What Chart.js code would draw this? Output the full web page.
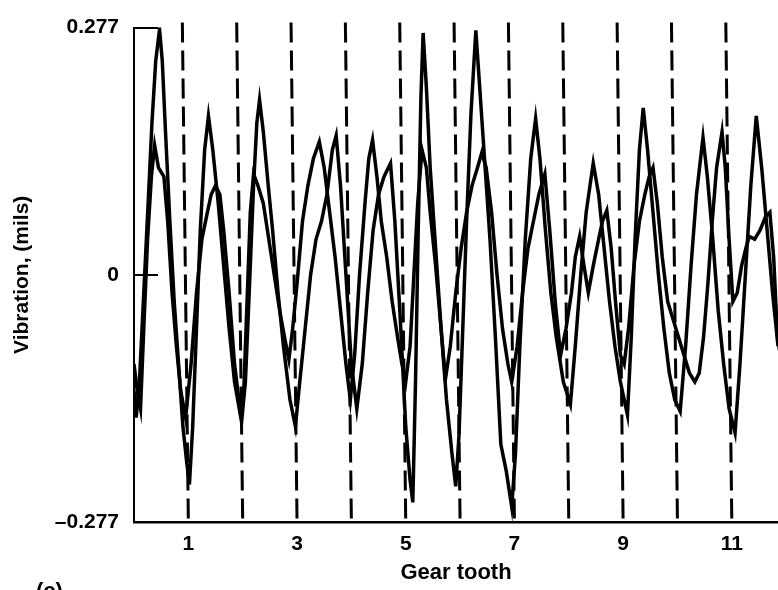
<!DOCTYPE html>
<html>
<head>
<meta charset="utf-8">
<script src="https://cdn.jsdelivr.net/npm/chart.js@4"></script>
<style>
  html, body { margin:0; padding:0; background:#fff; }
  #wrap { width:778px; height:590px; }
</style>
</head>
<body>
<div id="wrap"><canvas id="gearChart" width="778" height="590"></canvas></div>
<script>
// gear tooth positions / vibration (mils)
const aTooth = [0.00,0.04,0.10,0.18,0.26,0.33,0.40,0.47,0.52,0.58,0.66,0.74,0.82,0.90,0.97,1.02,1.08,1.15,1.22,1.30,1.37,1.45,1.55,1.65,1.75,1.85,1.98,2.05,2.12,2.20,2.26,2.31,2.38,2.47,2.55,2.65,2.75,2.87,2.97,3.05,3.15,3.25,3.35,3.45,3.55,3.65,3.72,3.80,3.90,4.00,4.10,4.20,4.30,4.40,4.50,4.60,4.72,4.80,4.90,5.00,5.08,5.13,5.18,5.23,5.28,5.32,5.38,5.45,5.55,5.65,5.75,5.85,5.92,5.98,6.05,6.12,6.20,6.29,6.35,6.45,6.55,6.65,6.75,6.85,6.95,7.02,7.10,7.20,7.30,7.39,7.47,7.57,7.67,7.77,7.90,8.03,8.12,8.22,8.32,8.45,8.55,8.65,8.75,8.85,8.95,9.08,9.15,9.22,9.30,9.37,9.45,9.55,9.65,9.75,9.85,9.95,10.05,10.15,10.25,10.35,10.47,10.55,10.65,10.75,10.85,10.95,11.06,11.15,11.25,11.35,11.45,11.55,11.65,11.75,11.85,11.92];
const aVib = [-0.13,-0.16,-0.12,-0.02,0.08,0.17,0.24,0.275,0.24,0.16,0.06,-0.03,-0.10,-0.17,-0.21,-0.235,-0.17,-0.06,0.05,0.14,0.178,0.14,0.08,0.01,-0.06,-0.12,-0.165,-0.12,-0.02,0.10,0.17,0.196,0.16,0.10,0.05,-0.02,-0.08,-0.14,-0.17,-0.12,-0.06,0.00,0.04,0.06,0.09,0.14,0.156,0.10,0.00,-0.10,-0.15,-0.10,-0.02,0.05,0.09,0.11,0.125,0.06,-0.05,-0.17,-0.23,-0.255,-0.12,0.05,0.20,0.271,0.21,0.12,0.03,-0.06,-0.14,-0.20,-0.237,-0.18,-0.06,0.06,0.18,0.274,0.22,0.13,0.04,-0.07,-0.19,-0.22,-0.26,-0.20,-0.08,0.04,0.13,0.175,0.13,0.05,-0.02,-0.07,-0.12,-0.145,-0.08,0.00,0.07,0.125,0.09,0.03,-0.03,-0.08,-0.12,-0.157,-0.07,0.04,0.14,0.187,0.14,0.07,0.00,-0.06,-0.11,-0.14,-0.153,-0.08,0.01,0.09,0.154,0.11,0.04,-0.04,-0.10,-0.15,-0.177,-0.10,0.00,0.10,0.178,0.12,0.05,-0.02,-0.08,-0.10];

const bTooth = [0.00,0.06,0.12,0.18,0.25,0.32,0.38,0.45,0.55,0.62,0.70,0.78,0.86,0.95,1.05,1.15,1.25,1.35,1.42,1.50,1.58,1.65,1.75,1.85,1.95,2.02,2.08,2.14,2.20,2.28,2.38,2.48,2.58,2.68,2.77,2.85,2.92,3.00,3.10,3.20,3.30,3.41,3.50,3.60,3.70,3.80,3.90,3.98,4.06,4.15,4.25,4.32,4.39,4.47,4.55,4.65,4.75,4.85,4.93,5.00,5.08,5.15,5.22,5.30,5.38,5.45,5.55,5.65,5.73,5.82,5.92,6.02,6.12,6.22,6.32,6.40,6.48,6.58,6.68,6.78,6.88,6.95,7.05,7.15,7.25,7.35,7.45,7.56,7.65,7.75,7.85,7.95,8.05,8.12,8.20,8.28,8.36,8.45,8.55,8.62,8.70,8.78,8.86,8.95,9.02,9.10,9.20,9.30,9.40,9.48,9.55,9.63,9.72,9.82,9.92,10.02,10.12,10.22,10.32,10.40,10.48,10.56,10.64,10.72,10.82,10.88,10.95,11.02,11.10,11.18,11.26,11.32,11.42,11.52,11.62,11.70,11.77,11.84,11.92];
const bVib = [-0.10,-0.13,-0.15,-0.06,0.04,0.11,0.145,0.12,0.11,0.06,-0.02,-0.08,-0.13,-0.16,-0.10,-0.02,0.04,0.07,0.09,0.10,0.09,0.05,-0.02,-0.10,-0.15,-0.13,-0.03,0.07,0.113,0.10,0.08,0.04,0.00,-0.04,-0.07,-0.095,-0.06,-0.01,0.06,0.10,0.13,0.149,0.12,0.07,0.02,-0.04,-0.10,-0.14,-0.09,0.00,0.08,0.13,0.151,0.11,0.06,0.02,-0.03,-0.07,-0.10,-0.12,-0.08,0.00,0.08,0.14,0.12,0.07,0.01,-0.06,-0.117,-0.08,-0.02,0.03,0.07,0.10,0.12,0.137,0.12,0.07,0.00,-0.06,-0.10,-0.12,-0.08,-0.02,0.03,0.06,0.09,0.113,0.05,-0.03,-0.09,-0.06,-0.02,0.02,0.043,0.01,-0.02,0.01,0.04,0.06,0.072,0.03,-0.03,-0.09,-0.10,-0.06,0.01,0.06,0.09,0.11,0.12,0.08,0.02,-0.03,-0.05,-0.07,-0.09,-0.11,-0.12,-0.11,-0.07,-0.01,0.06,0.12,0.16,0.12,0.04,-0.03,-0.02,0.01,0.03,0.043,0.04,0.05,0.065,0.07,0.02,-0.07,-0.10];

const toothLines = [1,2,3,4,5,6,7,8,9,10,11,12];
const xTicks = [1,3,5,7,9,11];
const yTicks = [-0.277, 0, 0.277];
const yTickLabels = ['\u20130.277', '0', '0.277'];

const FONT = '"Liberation Sans", Arial, Helvetica, sans-serif';
const dashLean = 6; // the scanned dashed lines lean a little to the left at the top

function pts(xs, ys){ return xs.map((x,i)=>({x:x, y:ys[i]})); }

// dashed tooth boundaries, inward y ticks, panel label
const extras = {
  id:'extras',
  beforeDatasetsDraw(chart){
    const {ctx, chartArea, scales:{x}} = chart;
    ctx.save();
    ctx.strokeStyle = '#000';
    ctx.lineWidth = 3;
    ctx.setLineDash([20, 8]);
    toothLines.forEach(t=>{
      if(t > x.max) return;
      const px = x.getPixelForValue(t);
      ctx.beginPath();
      ctx.moveTo(px - dashLean, chartArea.top - 5);
      ctx.lineTo(px, chartArea.bottom);
      ctx.stroke();
    });
    ctx.restore();
  },
  afterDraw(chart){
    const {ctx, chartArea, scales:{y}} = chart;
    ctx.save();
    ctx.strokeStyle = '#000';
    ctx.lineWidth = 2;
    yTicks.forEach(v=>{
      if(v === y.min) return;
      const py = Math.round(y.getPixelForValue(v));
      ctx.beginPath();
      ctx.moveTo(chartArea.left, py);
      ctx.lineTo(chartArea.left + 24, py);
      ctx.stroke();
    });
    ctx.fillStyle = '#000';
    ctx.font = 'bold 22px ' + FONT;
    ctx.textBaseline = 'top';
    ctx.fillText('(c)', 36, 581);
    ctx.restore();
  }
};

new Chart(document.getElementById('gearChart'), {
  type:'line',
  data:{
    datasets:[
      {data:pts(aTooth, aVib), borderColor:'#000', borderWidth:3.5, pointRadius:0, tension:0, fill:false},
      {data:pts(bTooth, bVib), borderColor:'#000', borderWidth:3.5, pointRadius:0, tension:0, fill:false}
    ]
  },
  plugins:[extras],
  options:{
    responsive:false,
    animation:false,
    layout:{padding:{top:15, right:0, bottom:0, left:0}},
    plugins:{legend:{display:false}, tooltip:{enabled:false}},
    scales:{
      x:{
        type:'linear', min:0, max:11.85,
        afterBuildTicks(s){ s.ticks = xTicks.map(v=>({value:v})); },
        afterFit(s){ s.height = 68; },
        grid:{display:false, drawTicks:false},
        border:{display:true, color:'#000', width:2.5},
        ticks:{color:'#000', padding:10, font:{family:FONT, size:21, weight:'bold'}, callback:v=>String(v)},
        title:{display:true, text:'Gear tooth', color:'#000', padding:{top:0, bottom:4}, font:{family:FONT, size:22, weight:'bold'}}
      },
      y:{
        min:-0.277, max:0.277,
        afterBuildTicks(s){ s.ticks = yTicks.map(v=>({value:v})); },
        afterFit(s){ s.width = 134; },
        grid:{display:false, drawTicks:false},
        border:{display:true, color:'#000', width:2},
        ticks:{color:'#000', padding:15, font:{family:FONT, size:21, weight:'bold'},
          callback:(v,i)=>yTickLabels[i]},
        title:{display:true, text:'Vibration, (mils)', color:'#000', padding:{top:10, bottom:0}, font:{family:FONT, size:21, weight:'bold'}}
      }
    }
  }
});
</script>
</body>
</html>
